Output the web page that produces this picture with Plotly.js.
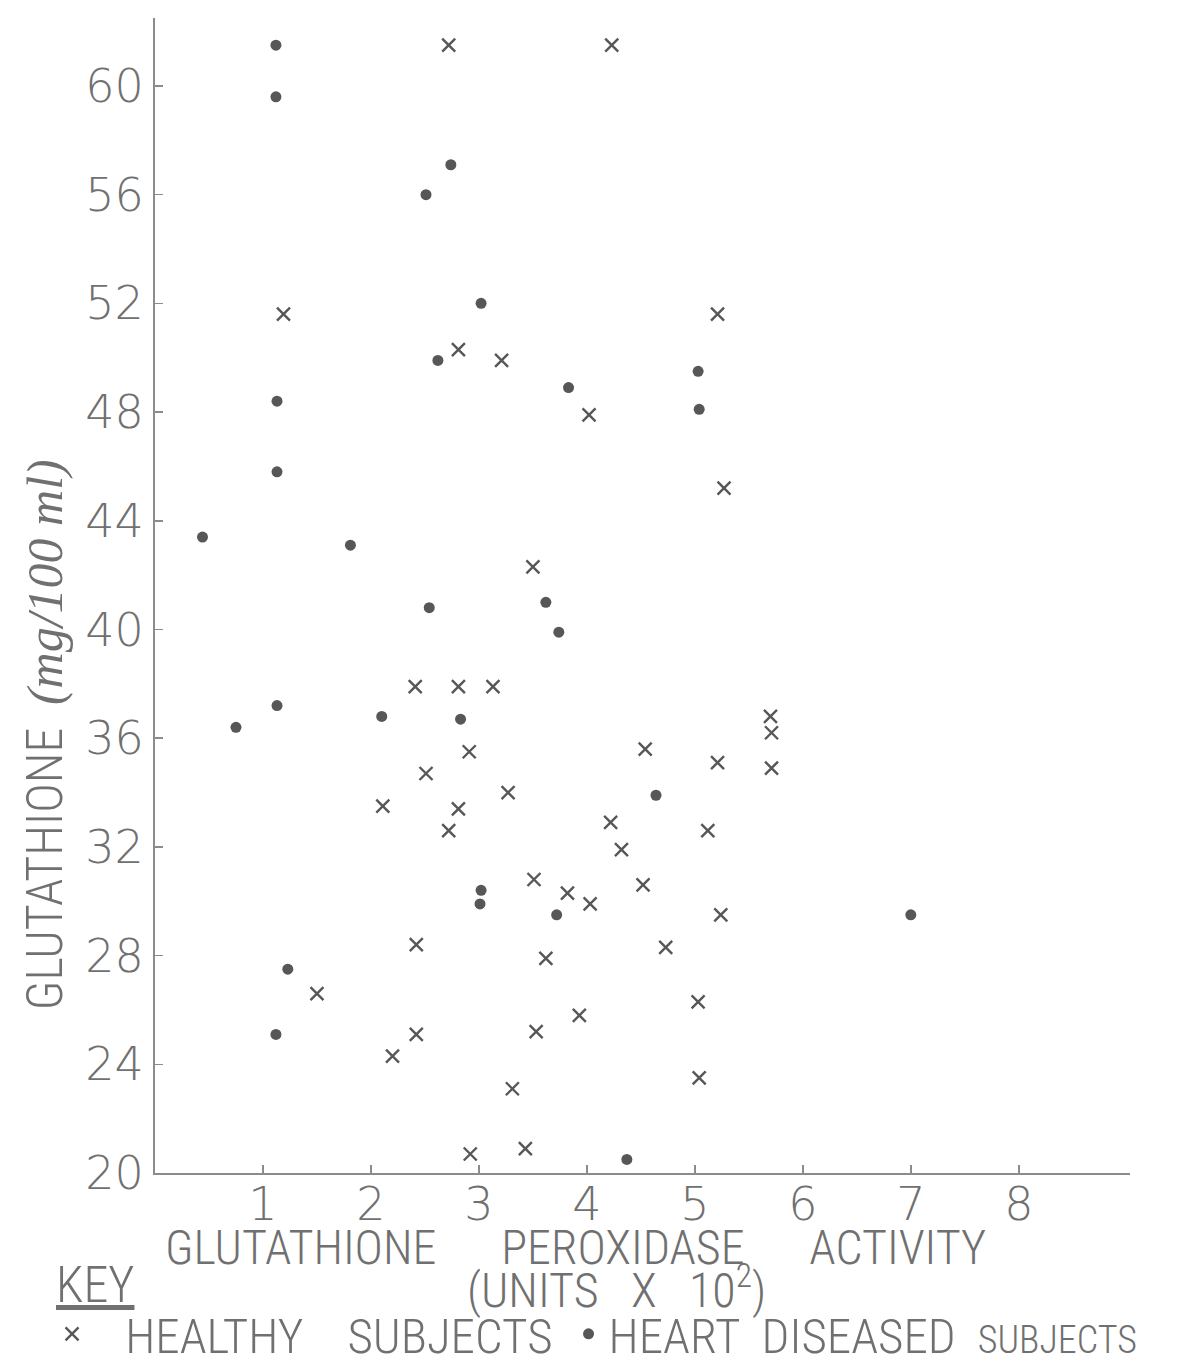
<!DOCTYPE html>
<html>
<head>
<meta charset="utf-8">
<script src="https://cdn.plot.ly/plotly-3.0.1.min.js"></script>
<style>
  html, body { margin: 0; padding: 0; background: #ffffff; }
  #chart { width: 1177px; height: 1371px; }
</style>
</head>
<body>
<div id="chart"></div>
<script>
// ---- Data ----
const healthyActivity = [2.72, 4.23, 1.19, 2.81, 3.21, 5.21, 4.02, 5.27, 3.50, 2.41, 2.81, 3.13, 2.91, 2.51, 2.11, 2.81, 2.72, 3.27, 4.54, 5.21, 5.70, 5.71, 5.71, 4.22, 5.12, 4.32, 3.51, 3.82, 4.03, 4.52, 5.24, 4.73, 3.62, 2.42, 1.50, 5.03, 3.93, 3.53, 2.42, 2.20, 3.31, 5.04, 2.92, 3.43];
const healthyGlutathione = [61.5, 61.5, 51.6, 50.3, 49.9, 51.6, 47.9, 45.2, 42.3, 37.9, 37.9, 37.9, 35.5, 34.7, 33.5, 33.4, 32.6, 34.0, 35.6, 35.1, 36.8, 36.2, 34.9, 32.9, 32.6, 31.9, 30.8, 30.3, 29.9, 30.6, 29.5, 28.3, 27.9, 28.4, 26.6, 26.3, 25.8, 25.2, 25.1, 24.3, 23.1, 23.5, 20.7, 20.9];

const diseasedActivity = [1.12, 1.12, 2.74, 2.51, 3.02, 2.62, 3.83, 5.03, 5.04, 1.13, 1.13, 0.44, 1.81, 2.54, 3.62, 3.74, 1.13, 0.75, 2.10, 2.83, 4.64, 3.02, 3.01, 3.72, 7.00, 1.23, 1.12, 4.37];
const diseasedGlutathione = [61.5, 59.6, 57.1, 56.0, 52.0, 49.9, 48.9, 49.5, 48.1, 48.4, 45.8, 43.4, 43.1, 40.8, 41.0, 39.9, 37.2, 36.4, 36.8, 36.7, 33.9, 30.4, 29.9, 29.5, 29.5, 27.5, 25.1, 20.5];

const xTickValues = [1, 2, 3, 4, 5, 6, 7, 8];
const yTickValues = [20, 24, 28, 32, 36, 40, 44, 48, 52, 56, 60];

const healthyName = '   HEALTHY    SUBJECTS ';
const diseasedName = 'HEART  DISEASED  <span style="font-size:38px">SUBJECTS</span>';
const keyLabel = '<u>KEY</u>';
const xTitleLine1 = 'GLUTATHIONE      PEROXIDASE      ACTIVITY';
const xTitleLine2 = '(UNITS   X   10<sup>2</sup>)';
const yTitleText = 'GLUTATHIONE  <span style="font-family:\'Liberation Serif\', \'DejaVu Serif\', serif;font-style:italic">(mg/100 ml)</span>';

// ---- Styling ----
const inkMarker = '#575757';
const inkText = '#707070';
const inkAxis = '#8c8c8c';
const letterFont = "'Liberation Sans Narrow', 'Roboto Condensed', 'DejaVu Sans Condensed', 'Liberation Sans', sans-serif";
const digitFont = "'DejaVu Sans', 'Liberation Sans', sans-serif";

const traces = [
  {
    type: 'scatter', mode: 'markers', name: healthyName,
    x: healthyActivity, y: healthyGlutathione,
    marker: { symbol: 'x-thin', size: 13, color: inkMarker, line: { width: 2.4, color: inkMarker } },
    hoverinfo: 'x+y'
  },
  {
    type: 'scatter', mode: 'markers', name: diseasedName,
    x: diseasedActivity, y: diseasedGlutathione,
    marker: { symbol: 'circle', size: 11, color: inkMarker, line: { width: 0 } },
    hoverinfo: 'x+y'
  }
];

const layout = {
  width: 1177, height: 1371,
  paper_bgcolor: '#ffffff', plot_bgcolor: '#ffffff',
  margin: { l: 155, r: 47, t: 18, b: 198, autoexpand: false },
  showlegend: true,
  legend: {
    orientation: 'h',
    x: -0.1056, xanchor: 'left',
    y: -0.106, yanchor: 'top',
    bgcolor: 'rgba(0,0,0,0)',
    borderwidth: 0,
    font: { family: letterFont, size: 49, color: inkText, weight: 300 },
    tracegroupgap: 0
  },
  xaxis: {
    range: [0, 9.03],
    tickmode: 'array', tickvals: xTickValues, ticktext: xTickValues.map(String),
    ticks: 'inside', ticklen: 8, tickwidth: 1.5, tickcolor: inkAxis,
    showline: true, linecolor: inkAxis, linewidth: 2,
    showgrid: false, zeroline: false,
    tickfont: { family: digitFont, size: 46, color: inkText, weight: 200 },
    ticklabelstandoff: -10,
    fixedrange: true
  },
  yaxis: {
    range: [20, 62.5],
    tickmode: 'array', tickvals: yTickValues, ticktext: yTickValues.map(String),
    ticks: 'inside', ticklen: 8, tickwidth: 1.5, tickcolor: inkAxis,
    showline: true, linecolor: inkAxis, linewidth: 2,
    showgrid: false, zeroline: false,
    tickfont: { family: digitFont, size: 46, color: inkText, weight: 200 },
    ticklabelstandoff: 0,
    fixedrange: true
  },
  annotations: [
    {
      xref: 'paper', yref: 'paper', x: 0.4308, y: -0.0645,
      xanchor: 'center', yanchor: 'middle', showarrow: false,
      text: xTitleLine1,
      font: { family: letterFont, size: 48, color: inkText, weight: 300 }
    },
    {
      xref: 'paper', yref: 'paper', x: 0.4738, y: -0.0993,
      xanchor: 'center', yanchor: 'middle', showarrow: false,
      text: xTitleLine2,
      font: { family: letterFont, size: 48, color: inkText, weight: 300 }
    },
    {
      xref: 'paper', yref: 'paper', x: -0.0615, y: -0.097,
      xanchor: 'center', yanchor: 'middle', showarrow: false,
      text: keyLabel,
      font: { family: letterFont, size: 50, color: inkText, weight: 300 }
    },
    {
      xref: 'paper', yref: 'paper', x: -0.1128, y: 0.379,
      xanchor: 'center', yanchor: 'middle', showarrow: false,
      textangle: -90,
      text: yTitleText,
      font: { family: letterFont, size: 50, color: inkText, weight: 300 }
    }
  ]
};

Plotly.newPlot('chart', traces, layout, { displayModeBar: false, staticPlot: true });
</script>
</body>
</html>
